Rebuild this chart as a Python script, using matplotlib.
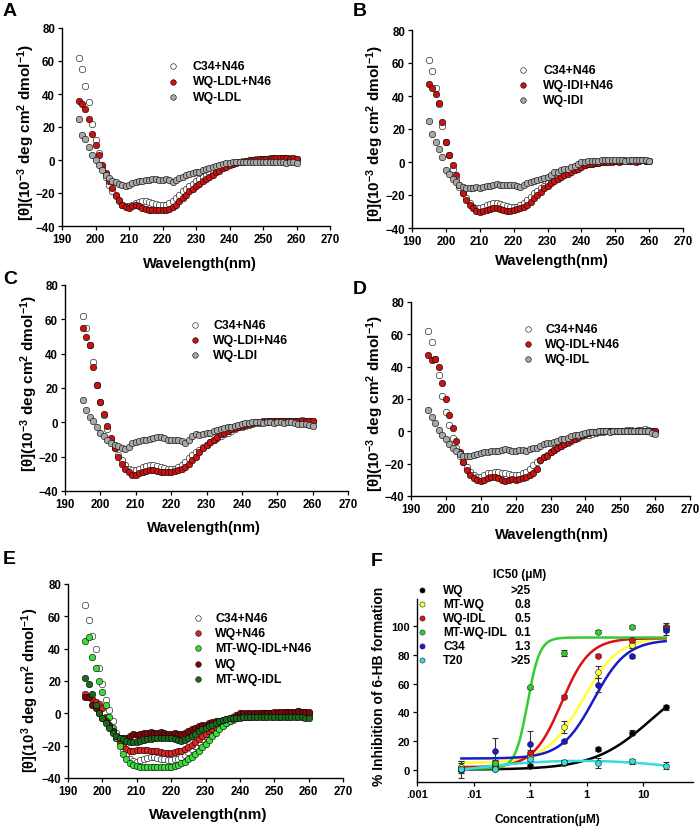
import numpy as np
import matplotlib
matplotlib.use('Agg')
import matplotlib.pyplot as plt
from matplotlib.ticker import NullLocator

plt.rcParams['font.family'] = ['Liberation Sans', 'DejaVu Sans']
plt.rcParams['font.weight'] = 'bold'
plt.rcParams['mathtext.fontset'] = 'custom'
plt.rcParams['mathtext.rm'] = 'Liberation Sans:bold'
plt.rcParams['mathtext.bf'] = 'Liberation Sans:bold'
plt.rcParams['mathtext.it'] = 'Liberation Sans:bold'
plt.rcParams['mathtext.default'] = 'rm'

# ---------------- data ----------------
wavelength = list(range(195, 261))

c34_n46 = [62, 55, 45, 35, 22, 12, 4, -4, -10, -15,
           -19, -22, -25, -27, -28, -28, -27, -26, -25.5, -25,
           -25, -25.5, -26, -26.5, -27, -27, -27, -26, -25, -23,
           -21, -19, -17.5, -16, -14.5, -13, -11.5, -10, -9, -8,
           -7, -6, -5, -4, -3, -2.5, -2, -1.5, -1, -0.5,
           -0.5, 0, 0, 0.5, 0.5, 0.5, 0.5, 1, 1, 0.5,
           1, 1, 1.5, 1, 0.5, 0.5]

wq_ldl_n46 = [36, 34, 31, 25, 16, 9, 3, -3, -8, -13,
              -17, -21, -24, -27, -28.5, -29, -28, -27.5, -28, -29,
              -29.5, -30, -30, -30, -30, -30, -30, -29.5, -28.5, -27,
              -25, -23, -21, -19, -17.5, -16, -14.5, -13, -11.5, -10,
              -9, -7.5, -6.5, -5, -4, -3, -2.5, -2, -1.5, -1,
              -0.5, 0, 0, 0, 0.5, 0.5, 0.5, 0.5, 1, 1,
              1, 1, 1, 0.5, 1, 0.5]

wq_ldl = [25, 15, 13, 8, 3, 0, -3, -6, -9, -11,
          -12.5, -13.5, -14.5, -15, -15.5, -15, -14, -13.5, -13, -12.5,
          -12, -12, -11.5, -11.5, -12, -12, -11.5, -12, -13.5, -12,
          -11, -10, -9, -8.5, -8, -7.5, -7, -6, -5.5, -5,
          -4, -3.5, -3, -2.5, -2, -2, -1.5, -1.5, -1, -1,
          -1, -1.5, -1, -1, -1.5, -1, -1, -1.5, -1, -1.5,
          -1, -1.5, -2, -1, -1.5, -2]

wq_idi_n46 = [47, 45, 41, 36, 24, 12, 4, -2, -8, -14,
              -19, -23, -26, -28, -29.5, -30, -29.5, -29, -28.5, -28,
              -28, -28.5, -29, -29.5, -29.5, -29, -28.5, -28, -27, -26,
              -24, -22, -20, -18, -16, -14.5, -13, -11.5, -10, -9,
              -8, -7, -6, -5, -4, -3, -2, -1.5, -1, -0.5,
              -0.5, 0, 0, 0, 0, 0.5, 0, 0.5, 0.5, 0.5,
              0.5, 0, 0.5, 1, 0.5, 0.5]

wq_idi = [25, 17, 12, 8, 3, -5, -7, -10, -12, -14,
          -15, -15.5, -16, -15.5, -15, -15.5, -15, -14.5, -14.5, -14,
          -13.5, -14, -14, -14, -14, -14, -14.5, -15, -14, -13,
          -12, -11.5, -11, -10, -9.5, -9, -8, -6, -6, -5,
          -4.5, -4, -3, -2.5, -1, 0, 0, 0.5, 0.5, 0.5,
          0.5, 1, 1, 1, 1, 1, 1, 1, 0.5, 1,
          1, 1, 1, 1.5, 1, 0.5]

wq_ldi_n46 = [55, 50, 45, 32, 22, 12, 5, -2, -9, -15,
              -20, -24, -27, -29, -30.5, -30.5, -29.5, -29, -28.5, -28,
              -28, -28.5, -29, -29, -29, -29, -28.5, -28, -27, -26,
              -24, -22, -20, -17, -15, -13, -11.5, -10, -8.5, -7,
              -6, -5, -4, -3.5, -2.5, -2, -1.5, -1, -0.5, 0,
              0, 0.5, 0.5, 0.5, 0.5, 0.5, 0.5, 1, 1, 0.5,
              1, 1, 1, 1, 1, 1]

wq_ldi = [13, 7, 3, 1, -3, -6, -8, -10, -12, -13,
          -14, -15, -15.5, -14.5, -12, -11.5, -11, -10.5, -10, -9.5,
          -9, -8.5, -8.5, -9, -10, -10, -10.5, -10, -11, -12,
          -10, -8, -7, -7.5, -7, -6.5, -6, -5, -4.5, -4,
          -3.5, -3, -2.5, -2, -1.5, -1, -0.5, -0.5, 0, 0,
          0, -0.5, 0, 0, -0.5, 0, 0, -0.5, 0, 0,
          -0.5, -1, -1, -1, -1.5, -2]

wq_idl_n46 = [47, 44, 45, 40, 30, 20, 10, 2, -6, -13,
              -19, -24, -27, -29, -30, -30.5, -30, -29, -28.5, -28.5,
              -29, -30, -30.5, -30, -29.5, -30, -29.5, -29, -28, -27,
              -25.5, -23, -18, -16, -15, -13, -11.5, -10, -9, -8,
              -6.5, -5.5, -4.5, -3.5, -2, -1.5, -1, -0.5, -0.5, 0,
              0, 0, 0, 0, 0.5, 0.5, 0.5, 0.5, 0.5, 0.5,
              0.5, 0.5, 0.5, 0.5, 0.5, 0.5]

wq_idl = [13, 9, 5, 1, -2, -5, -8, -10, -12, -14,
          -15, -15.5, -15, -14.5, -14, -13.5, -13, -12.5, -12, -12,
          -12, -11.5, -11, -11.5, -12, -12, -11.5, -11.5, -12, -11,
          -10.5, -10, -9, -8, -7.5, -7, -6.5, -6, -5, -4.5,
          -4, -3, -2.5, -2, -1.5, -1, -0.5, -0.5, -0.5, 0,
          0, 0, -0.5, 0, 0, 0, 0, 0, 0, 0.5,
          0, 0, 0.5, 0, -1, -1.5]

c34_n46_e = [67, 58, 48, 40, 28, 18, 8, 2, -5, -12,
             -18, -22, -25, -28, -29.5, -30, -29, -28, -27.5, -27,
             -27, -27.5, -28, -28.5, -29, -29, -28.5, -28, -27, -26,
             -24, -22, -20, -18, -16, -14, -12.5, -11, -9.5, -8,
             -7, -6, -5, -4, -3, -2.5, -2, -1.5, -1, -0.5,
             -0.5, 0, 0, 0, 0.5, 0.5, 0.5, 0.5, 1, 1,
             1, 1, 1.5, 1, 1, 0.5]

wq_n46 = [12, 10, 9, 7, 5.5, 3, -2, -7, -11, -15,
          -18, -20.5, -22, -23, -23, -22.5, -22.5, -22.5, -22.5, -23,
          -23, -23.5, -24, -24.5, -24.5, -24.5, -24, -23.5, -23, -22,
          -21, -19.5, -18, -16, -14, -12.5, -11, -10, -8.5, -7,
          -6, -5, -4, -3, -2.5, -2, -1.5, -1, -1, -0.5,
          -0.5, 0, 0, 0, 0, 0.5, 0.5, 0.5, 0.5, 0.5,
          0.5, 0.5, 0.5, 0.5, 0.5, 0]

mt_wq_idl_n46 = [45, 47, 35, 28, 20, 13, 5, -2, -9, -15,
                 -20, -25, -28, -30.5, -32, -32.5, -33, -33, -33, -33,
                 -33, -33, -33.5, -33.5, -33, -33, -32.5, -32, -31, -30,
                 -28.5, -27, -25, -23, -21, -19, -16.5, -14, -12, -10,
                 -8, -6, -4.5, -3.5, -3, -2.5, -2, -2, -2, -1.5,
                 -1.5, -1.5, -1, -1, -1, -1, -1, -1, -1, -1,
                 -1, -1, -1, -1, -1, -1]

wq = [10, 10, 5, 3, 0, -3, -5, -8, -11, -14,
      -15, -15, -15, -14, -13, -13.5, -12.5, -12, -12, -11.5,
      -12, -12, -11.5, -12, -12.5, -12.5, -12, -12.5, -13, -12,
      -11, -10, -9, -8, -7.5, -7, -6, -5.5, -5, -4.5,
      -4, -3.5, -3, -2, -1, 0, 0, 0, 0.5, 0.5,
      0.5, 0.5, 0.5, 0.5, 0.5, 1, 1, 1, 1, 1,
      1, 1, 1.5, 1, 1, 1]

mt_wq_idl = [22, 18, 12, 5, 0, -3, -6, -9, -12, -14,
             -15, -16, -17, -17.5, -17.5, -17.5, -17, -16.5, -16, -16,
             -15.5, -15.5, -15, -15, -15.5, -15.5, -16, -16.5, -17, -16.5,
             -15, -14, -12.5, -11, -10, -9, -8, -7, -6, -5,
             -4, -3.5, -3, -3, -3, -3, -2.5, -2.5, -2.5, -2.5,
             -2.5, -2.5, -2.5, -2.5, -2, -2, -2.5, -2.5, -2.5, -2.5,
             -2.5, -2.5, -2.5, -2.5, -3, -3]

# Panel F: 6-HB inhibition
conc = [0.0061, 0.0244, 0.0977, 0.39, 1.5625, 6.25, 25]
f_names = ['WQ', 'MT-WQ', 'WQ-IDL', 'MT-WQ-IDL', 'C34', 'T20']
f_ic50 = ['>25', '0.8', '0.5', '0.1', '1.3', '>25']
f_values = {
    'WQ':        [2, 0.7, 3, 5, 14.5, 26, 43.5],
    'MT-WQ':     [2, 5, 10, 30, 68, 87, 99],
    'WQ-IDL':    [1, 3, 12, 51, 79.5, 90, 99],
    'MT-WQ-IDL': [1, 5, 57.5, 81, 96, 99.5, 98],
    'C34':       [0, 13, 18, 20, 59, 79, 97],
    'T20':       [0.5, 1, 8, 5.5, 5, 6, 3],
}
f_errors = {
    'WQ':        [4, 1, 1, 1.5, 1.5, 2, 1.5],
    'MT-WQ':     [3, 2, 2, 4, 4, 2, 3],
    'WQ-IDL':    [2, 1, 2, 1, 1, 1, 2],
    'MT-WQ-IDL': [2, 1, 1, 2, 1, 1, 1],
    'C34':       [1, 9, 9, 1, 5, 1, 3],
    'T20':       [6, 1, 2, 1.5, 3.5, 1.5, 2.5],
}
# four-parameter logistic fits: bottom, top, IC50, Hill slope
f_fits = {
    'WQ':        (0.3, 70, 14, 0.85),
    'MT-WQ':     (5, 92.5, 0.85, 1.35),
    'WQ-IDL':    (2, 91.5, 0.36, 1.75),
    'MT-WQ-IDL': (1, 92, 0.09, 4.0),
    'C34':       (8, 90.5, 1.35, 1.5),
}
f_colors = {'WQ': '#000000', 'MT-WQ': '#ffff33', 'WQ-IDL': '#dd1111',
            'MT-WQ-IDL': '#33cc33', 'C34': '#1a1acc', 'T20': '#33dddd'}
f_xticks = [0.001, 0.01, 0.1, 1, 10]
f_xticklabels = ['.001', '.01', '.1', '1', '10']

# ---------------- figure ----------------
W, H = 700, 828
fig = plt.figure(figsize=(7, 8.28), dpi=100)
MS = 22


def rect(l, t, r, b):
    return [l / W, 1 - b / H, (r - l) / W, (b - t) / H]


def fx(x):
    return x / W


def fy(y):
    return 1 - y / H


def style_axes(ax, tick_size=8.3):
    for s in ['top', 'right']:
        ax.spines[s].set_visible(False)
    for s in ['left', 'bottom']:
        ax.spines[s].set_linewidth(1.0)
    ax.tick_params(direction='out', length=3, width=0.9, labelsize=tick_size, pad=2)
    for lab in ax.get_xticklabels() + ax.get_yticklabels():
        lab.set_fontweight('bold')


ylab_neg = r'[θ](10$^{-3}$ deg cm$^{2}$ dmol$^{-1}$)'
ylab_pos = r'[θ](10$^{3}$ deg cm$^{2}$ dmol$^{-1}$)'


def cd_panel(box, series, leg, ylab, ylab_xy, xlab_xy, letter, letter_xy,
             xlab_size=10.6, ylab_size=11):
    ax = fig.add_axes(rect(*box))
    for i, (name, vals, color) in enumerate(series):
        ax.scatter(wavelength, vals, s=MS, c=color, edgecolors='black',
                   linewidths=0.4, zorder=2 + i, clip_on=False)
    ax.set_xlim(190, 270)
    ax.set_ylim(-40, 80)
    ax.set_xticks(range(190, 271, 10))
    ax.set_yticks(range(-40, 81, 20))
    style_axes(ax)
    mx, tx, y0, dy = leg
    for i, (name, vals, color) in enumerate(series):
        yy = y0 + i * dy
        ax.scatter([fx(mx)], [fy(yy)], s=16, c=color, edgecolors='black',
                   linewidths=0.4, transform=fig.transFigure, clip_on=False)
        fig.text(fx(tx), fy(yy), name, fontsize=8.8, fontweight='bold', va='center', ha='left')
    fig.text(fx(ylab_xy[0]), fy(ylab_xy[1]), ylab, rotation=90, fontsize=ylab_size,
             fontweight='bold', ha='center', va='center')
    fig.text(fx(xlab_xy[0]), fy(xlab_xy[1]), 'Wavelength(nm)', fontsize=xlab_size,
             fontweight='bold', ha='center', va='center')
    fig.text(fx(letter_xy[0]), fy(letter_xy[1]), letter, fontsize=14,
             fontweight='bold', ha='left', va='top')
    return ax


white, red, gray = '#ffffff', '#cc1111', '#a8a8a8'

cd_panel((62, 29, 330, 227),
         [('C34+N46', c34_n46, white), ('WQ-LDL+N46', wq_ldl_n46, red), ('WQ-LDL', wq_ldl, gray)],
         (173, 193, 67, 15.5), ylab_neg, (26, 132), (200, 264), 'A', (3, 3))

cd_panel((412, 31, 683, 229),
         [('C34+N46', c34_n46, white), ('WQ-IDI+N46', wq_idi_n46, red), ('WQ-IDI', wq_idi, gray)],
         (523, 543, 71, 15), ylab_neg, (375, 133), (552, 261), 'B', (353, 3))

cd_panel((65, 286, 348, 492),
         [('C34+N46', c34_n46, white), ('WQ-LDI+N46', wq_ldi_n46, red), ('WQ-LDI', wq_ldi, gray)],
         (195, 213, 326, 15), ylab_neg, (29, 383), (204, 528), 'C', (3, 271))

cd_panel((411, 303, 690, 497),
         [('C34+N46', c34_n46, white), ('WQ-IDL+N46', wq_idl_n46, red), ('WQ-IDL', wq_idl, gray)],
         (528, 545, 330, 15), ylab_neg, (375, 403), (552, 535), 'D', (353, 281))

cd_panel((68, 585, 343, 779),
         [('C34+N46', c34_n46_e, white), ('WQ+N46', wq_n46, '#e02424'),
          ('MT-WQ-IDL+N46', mt_wq_idl_n46, '#3ddc3d'), ('WQ', wq, '#7a0a0a'),
          ('MT-WQ-IDL', mt_wq_idl, '#1c6b1c')],
         (198, 215, 619, 15.2), ylab_pos, (30, 690), (208, 815), 'E', (3, 551),
         xlab_size=11, ylab_size=10.6)

# ---------------- panel F ----------------
axf = fig.add_axes(rect(417, 600, 693, 783))
axf.set_xscale('log')
xs = np.logspace(np.log10(conc[0]), np.log10(conc[-1]), 300)
for name in f_names:
    col = f_colors[name]
    if name in f_fits:
        b, t, ic, h = f_fits[name]
        yfit = b + (t - b) / (1 + (ic / xs) ** h)
    else:
        coef = np.polyfit(np.log10(conc), f_values[name], 2)
        yfit = np.polyval(coef, np.log10(xs))
    axf.plot(xs, yfit, color=col, lw=1.8, zorder=2)
for name in f_names:
    col = f_colors[name]
    axf.errorbar(conc, f_values[name], yerr=f_errors[name], fmt='none',
                 ecolor='#333333', elinewidth=0.8, capsize=2.2, capthick=0.8, zorder=3)
    axf.scatter(conc, f_values[name], s=18, c=col, edgecolors='#222222',
                linewidths=0.4, zorder=4)
axf.set_xlim(0.001, 76)
axf.set_ylim(-8.3, 118.75)
axf.set_xticks(f_xticks)
axf.set_xticklabels(f_xticklabels)
axf.xaxis.set_minor_locator(NullLocator())
axf.set_yticks(range(0, 101, 20))
style_axes(axf, tick_size=8.0)

# IC50 legend
fig.text(fx(520), fy(575), 'IC50 (μM)', fontsize=8.5, fontweight='bold', ha='center', va='center')
rows_y = [591, 605, 619, 633, 647, 661]
for name, ic, yy in zip(f_names, f_ic50, rows_y):
    axf.scatter([fx(422)], [fy(yy)], s=14, c=f_colors[name], edgecolors='#222222',
                linewidths=0.4, transform=fig.transFigure, clip_on=False)
    fig.text(fx(443), fy(yy), name, fontsize=8.6, fontweight='bold', ha='left', va='center')
    fig.text(fx(531), fy(yy), ic, fontsize=8.6, fontweight='bold', ha='right', va='center')

fig.text(fx(379), fy(686), '% Inhibition of 6-HB formation', rotation=90, fontsize=10,
         fontweight='bold', ha='center', va='center')
fig.text(fx(547), fy(820), 'Concentration(μM)', fontsize=8.6, fontweight='bold',
         ha='center', va='center')
fig.text(fx(371), fy(553), 'F', fontsize=14, fontweight='bold', ha='left', va='top')

fig.savefig('out.png', dpi=100)
